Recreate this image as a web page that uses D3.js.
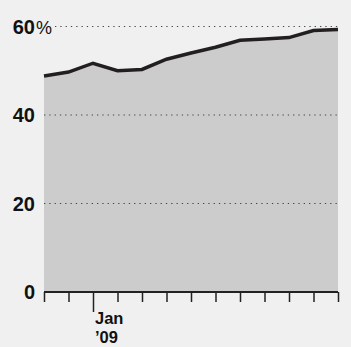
<!DOCTYPE html>
<html><head><meta charset="utf-8">
<script src="https://cdn.jsdelivr.net/npm/d3@7"></script>
<style>
html,body{margin:0;padding:0;background:#f0f0f0;}
svg{display:block;}
text{font-family:"Liberation Sans Narrow","Liberation Sans",sans-serif;font-weight:bold;fill:#111;}
</style></head>
<body>
<script>
const months = ["2008-11","2008-12","2009-01","2009-02","2009-03","2009-04","2009-05","2009-06","2009-07","2009-08","2009-09","2009-10","2009-11"];
const values = [48.8, 49.7, 51.7, 50.0, 50.3, 52.6, 54.0, 55.3, 56.9, 57.2, 57.5, 59.1, 59.3];
const yTicks = [0, 20, 40, 60];
const xLabelMonth = "2009-01";
const xLabelLines = ["Jan", "\u201909"];

const W = 351, H = 347;
const svg = d3.select("body").append("svg").attr("width", W).attr("height", H);
svg.append("rect").attr("width", W).attr("height", H).attr("fill", "#f0f0f0");

const x = d3.scalePoint().domain(months).range([44, 338]);
const y = d3.scaleLinear().domain([0, 60]).range([292, 26.5]);

const data = months.map((m, i) => ({m, v: values[i]}));

svg.append("path").datum(data)
  .attr("fill", "#cccccc")
  .attr("d", d3.area().x(d => x(d.m)).y0(y(0)).y1(d => y(d.v)));

// gridlines
const grid = svg.append("g");
yTicks.filter(t => t > 0).forEach(t => {
  grid.append("line")
    .attr("x1", t === 60 ? 55 : 44).attr("x2", 338)
    .attr("y1", y(t)).attr("y2", y(t))
    .attr("stroke", "#444").attr("stroke-width", 1)
    .attr("stroke-dasharray", "1.3,4");
});

// line
svg.append("path").datum(data)
  .attr("fill", "none").attr("stroke", "#231f20").attr("stroke-width", 3.5)
  .attr("stroke-linejoin", "miter")
  .attr("d", d3.line().x(d => x(d.m)).y(d => y(d.v)));

// y labels
yTicks.forEach(t => {
  svg.append("text")
    .attr("x", 35).attr("y", y(t) + 7)
    .attr("text-anchor", "end").style("font-size", "20px")
    .text(t);
  if (t === 60) {
    svg.append("text").attr("x", 36).attr("y", y(t) + 7)
      .style("font-size", "18px").style("font-weight", "normal").text("%");
  }
});

// x axis
const axis = d3.axisBottom(x).tickSize(10).tickFormat("");
const gx = svg.append("g").attr("transform", `translate(0,${y(0)})`).call(axis);
gx.select(".domain").attr("stroke", "#222").attr("stroke-width", 1.8).attr("d", "M44,0H338");
gx.selectAll(".tick line").attr("stroke", "#222").attr("stroke-width", 1.5)
  .attr("y2", d => d === xLabelMonth ? 20 : 10);

const lx = x(xLabelMonth) + 2;
xLabelLines.forEach((s, i) => {
  svg.append("text").attr("x", lx).attr("y", 324 + i * 18.5)
    .style("font-size", "16.5px").text(s);
});
</script>
</body></html>
